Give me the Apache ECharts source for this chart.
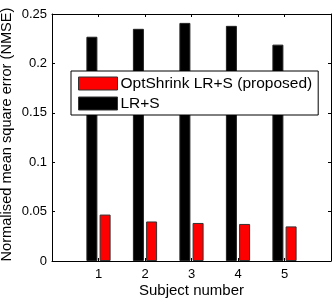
<!DOCTYPE html>
<html>
<head>
<meta charset="utf-8">
<script src="https://cdn.jsdelivr.net/npm/echarts@6/dist/echarts.min.js"></script>
<style>
  html, body { margin: 0; padding: 0; background: #fff; }
  #chart { width: 332px; height: 300px; }
</style>
</head>
<body>
<div id="chart"></div>
<script>
const subjects = [1, 2, 3, 4, 5];
const lrsNmse = [0.227, 0.235, 0.241, 0.238, 0.219];
const optShrinkNmse = [0.047, 0.040, 0.0385, 0.0375, 0.035];
const yTicks = [0, 0.05, 0.1, 0.15, 0.2, 0.25];

const font = 'Liberation Sans, Arial, sans-serif';
const chart = echarts.init(document.getElementById('chart'));

// matlab style box: axis line + short ticks pointing into the plot
const boxAxis = () => ({
  axisLine: { show: true, onZero: false, lineStyle: { color: '#000', width: 1 } },
  axisTick: { show: true, inside: true, length: 3, lineStyle: { color: '#000' } },
  splitLine: { show: false },
});

chart.setOption({
  animation: false,
  textStyle: { fontFamily: font },
  grid: { left: 52, right: 1, top: 14, bottom: 39, outerBoundsMode: 'none', containLabel: false },
  legend: {
    orient: 'vertical',
    left: 71,
    top: 71,
    data: ['OptShrink LR+S (proposed)', 'LR+S'],
    icon: 'rect',
    itemWidth: 39,
    itemHeight: 13,
    itemGap: 3,
    padding: [4, 6, 3, 7],
    backgroundColor: '#fff',
    borderColor: '#000',
    borderWidth: 1,
    borderRadius: 0,
    textStyle: { fontFamily: font, fontSize: 15.5, lineHeight: 17, color: '#000', padding: [0, 0, 0, -2] },
    itemStyle: { borderWidth: 1, borderColor: '#333' },
  },
  xAxis: [
    {
      type: 'value',
      min: 0,
      max: 6,
      interval: 1,
      name: 'Subject number',
      nameLocation: 'middle',
      nameGap: 22,
      nameMoveOverlap: false,
      nameTextStyle: { fontSize: 15, color: '#000' },
      ...boxAxis(),
      axisLabel: {
        fontSize: 13,
        color: '#000',
        margin: 7,
        formatter: v => (subjects.includes(v) ? String(v) : ''),
      },
    },
    {
      type: 'value',
      position: 'top',
      min: 0,
      max: 6,
      interval: 1,
      ...boxAxis(),
      axisLabel: { show: false },
    },
  ],
  yAxis: [
    {
      type: 'value',
      min: yTicks[0],
      max: yTicks[yTicks.length - 1],
      interval: 0.05,
      name: 'Normalised mean square error (NMSE)',
      nameLocation: 'middle',
      nameGap: 38,
      nameMoveOverlap: false,
      nameTextStyle: { fontSize: 14.6, color: '#000', padding: [0, 0, 0, 6] },
      ...boxAxis(),
      axisLabel: { fontSize: 13, color: '#000', margin: 5 },
    },
    {
      type: 'value',
      position: 'right',
      min: yTicks[0],
      max: yTicks[yTicks.length - 1],
      interval: 0.05,
      ...boxAxis(),
      axisLabel: { show: false },
    },
  ],
  series: [
    {
      name: 'LR+S',
      type: 'bar',
      barWidth: 11,
      barGap: '20%',
      itemStyle: { color: '#000', borderColor: '#222', borderWidth: 1 },
      data: subjects.map((s, i) => [s, lrsNmse[i]]),
    },
    {
      name: 'OptShrink LR+S (proposed)',
      type: 'bar',
      barWidth: 11,
      barGap: '20%',
      itemStyle: { color: '#ff0000', borderColor: '#333', borderWidth: 1 },
      data: subjects.map((s, i) => [s, optShrinkNmse[i]]),
    },
  ],
});
</script>
</body>
</html>
